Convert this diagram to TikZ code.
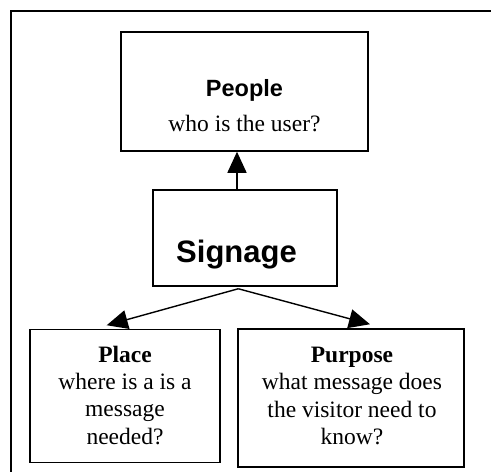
\documentclass[tikz,border=0pt]{standalone}
\usepackage{fontspec}
\setmainfont{Liberation Serif}
\setsansfont{Liberation Sans}
\usetikzlibrary{arrows.meta}
\begin{document}
\begin{tikzpicture}[x=1pt,y=-1pt,
  box/.style={draw, line width=1.5pt, inner sep=0pt},
  txt/.style={inner sep=0pt, align=center, font=\fontsize{23.5}{27.3}\selectfont},
  arr/.style={line width=1.4pt, -{Triangle[length=21pt,width=19pt]}}]
\useasboundingbox (0,0) rectangle (491,472);
% frame
\coordinate (fbl) at (11,473);
\coordinate (ftl) at (11,11);
\coordinate (ftr) at (492,11);
\draw[line width=2pt] (fbl) -- (ftl) -- (ftr);
% boxes
\node[box, minimum width=247pt, minimum height=119pt] (people) at (244.5,91.5) {};
\node[box, minimum width=184pt, minimum height=96pt] (signage) at (245,238) {};
\node[box, minimum width=190pt, minimum height=133pt] (place) at (125,396) {};
\node[box, minimum width=226pt, minimum height=138pt] (purpose) at (351,398) {};
% texts (anchor=base is the last line's baseline)
\node[txt, anchor=base] (peoplet) at (244.5,131.7) {\sffamily\bfseries People\\[7.5pt]\rmfamily\mdseries who is the user?};
\node[txt, anchor=base, font=\fontsize{31}{36}\selectfont\sffamily\bfseries] (signaget) at (236.5,262) {Signage};
\node[txt, anchor=base] (placet) at (125,444) {\textbf{Place}\\where is a is a\\message\\needed?};
\node[txt, anchor=base] (purposet) at (352,444.5) {\textbf{Purpose}\\what message does\\the visitor need to\\know?};
% connectors
\draw[arr] ([xshift=-8pt]signage.north) -- ([xshift=-7.5pt]people.south);
\draw[arr] ([xshift=-6.7pt,yshift=-2pt]signage.south) -- ([xshift=-18.3pt,yshift=3.5pt]place.north);
\draw[arr] ([xshift=-6.7pt,yshift=-2pt]signage.south) -- ([xshift=19pt,yshift=4pt]purpose.north);
\end{tikzpicture}
\end{document}
